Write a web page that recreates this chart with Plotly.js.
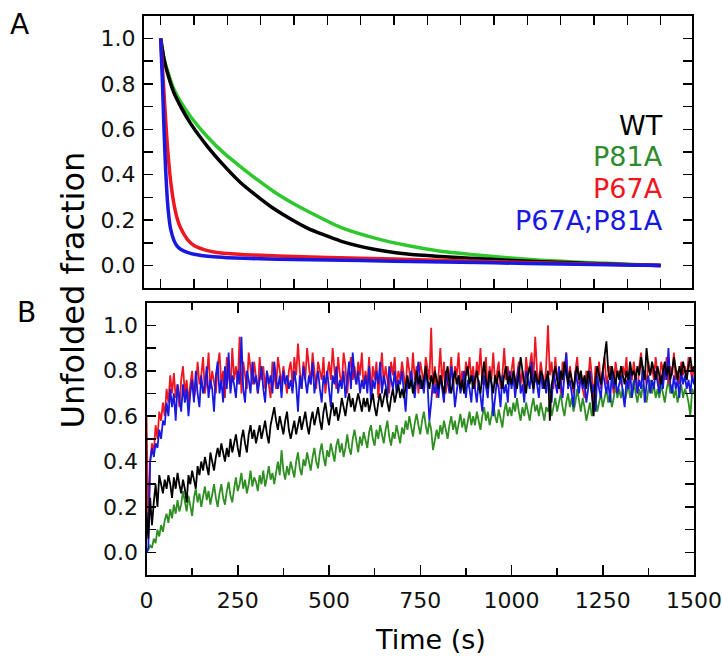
<!DOCTYPE html>
<html>
<head>
<meta charset="utf-8">
<script src="https://cdn.plot.ly/plotly-3.0.1.min.js"></script>
<style>html,body{margin:0;padding:0;background:#fff;}#chart{width:722px;height:656px;}</style>
</head>
<body>
<div id="chart"></div>
<script>
// ---------- Panel A (smooth decays) ----------
const timeA_slow = [0, 10, 20, 40, 60, 90, 140, 190, 240, 290, 340, 390, 440, 540, 640, 740, 840, 940, 1040, 1140, 1240, 1340, 1440, 1500];
const wtA   = [1.0, 0.91, 0.85, 0.76, 0.70, 0.625, 0.525, 0.44, 0.365, 0.305, 0.25, 0.205, 0.165, 0.108, 0.072, 0.051, 0.04, 0.031, 0.024, 0.017, 0.012, 0.007, 0.003, 0.0];
const p81aA = [1.0, 0.91, 0.86, 0.775, 0.72, 0.655, 0.567, 0.495, 0.435, 0.378, 0.325, 0.28, 0.24, 0.168, 0.122, 0.088, 0.063, 0.048, 0.035, 0.024, 0.016, 0.01, 0.004, 0.0];
const timeA_p67a = [0, 5, 10, 15, 20, 30, 40, 50, 60, 80, 100, 130, 160, 200, 250, 300, 400, 600, 800, 1000, 1200, 1400, 1500];
const p67aA = [1.0, 0.88, 0.76, 0.64, 0.53, 0.37, 0.27, 0.205, 0.165, 0.115, 0.088, 0.07, 0.06, 0.053, 0.048, 0.045, 0.04, 0.032, 0.025, 0.017, 0.01, 0.004, 0.0];
const timeA_dbl = [0, 5, 10, 15, 20, 25, 30, 40, 50, 60, 80, 100, 150, 200, 300, 400, 600, 800, 1000, 1200, 1400, 1500];
const dblA  = [1.0, 0.82, 0.60, 0.42, 0.29, 0.21, 0.16, 0.11, 0.085, 0.072, 0.058, 0.05, 0.04, 0.035, 0.03, 0.027, 0.022, 0.017, 0.012, 0.007, 0.003, 0.0];

// ---------- Panel B (noisy rises), one value every 5 s ----------
const timeB = [
  0,5,10,15,20,25,30,35,40,45,50,55,60,65,70,75,80,85,90,95,
  100,105,110,115,120,125,130,135,140,145,150,155,160,165,170,175,180,185,190,195,
  200,205,210,215,220,225,230,235,240,245,250,255,260,265,270,275,280,285,290,295,
  300,305,310,315,320,325,330,335,340,345,350,355,360,365,370,375,380,385,390,395,
  400,405,410,415,420,425,430,435,440,445,450,455,460,465,470,475,480,485,490,495,
  500,505,510,515,520,525,530,535,540,545,550,555,560,565,570,575,580,585,590,595,
  600,605,610,615,620,625,630,635,640,645,650,655,660,665,670,675,680,685,690,695,
  700,705,710,715,720,725,730,735,740,745,750,755,760,765,770,775,780,785,790,795,
  800,805,810,815,820,825,830,835,840,845,850,855,860,865,870,875,880,885,890,895,
  900,905,910,915,920,925,930,935,940,945,950,955,960,965,970,975,980,985,990,995,
  1000,1005,1010,1015,1020,1025,1030,1035,1040,1045,1050,1055,1060,1065,1070,1075,1080,1085,1090,1095,
  1100,1105,1110,1115,1120,1125,1130,1135,1140,1145,1150,1155,1160,1165,1170,1175,1180,1185,1190,1195,
  1200,1205,1210,1215,1220,1225,1230,1235,1240,1245,1250,1255,1260,1265,1270,1275,1280,1285,1290,1295,
  1300,1305,1310,1315,1320,1325,1330,1335,1340,1345,1350,1355,1360,1365,1370,1375,1380,1385,1390,1395,
  1400,1405,1410,1415,1420,1425,1430,1435,1440,1445,1450,1455,1460,1465,1470,1475,1480,1485,1490,1495,
  1500];
const p67aB = [
  0.60,0.12,0.40,0.48,0.44,0.56,0.50,0.62,0.58,0.66,0.60,0.72,0.66,0.78,0.70,0.79,0.68,0.74,0.64,0.76,
  0.82,0.70,0.76,0.66,0.74,0.80,0.68,0.72,0.84,0.74,0.78,0.86,0.70,0.76,0.88,0.72,0.80,0.74,0.70,0.82,
  0.88,0.74,0.80,0.68,0.86,0.78,0.72,0.90,0.76,0.82,0.74,0.95,0.70,0.84,0.78,0.72,0.88,0.80,0.74,0.84,
  0.78,0.70,0.86,0.76,0.82,0.72,0.80,0.74,0.68,0.84,0.78,0.72,0.86,0.80,0.74,0.82,0.76,0.70,0.80,0.84,
  0.74,0.86,0.78,0.92,0.80,0.72,0.84,0.76,0.90,0.82,0.74,0.88,0.78,0.72,0.84,0.80,0.76,0.86,0.70,0.78,
  0.84,0.76,0.90,0.80,0.72,0.86,0.78,0.74,0.88,0.82,0.70,0.80,0.86,0.76,0.82,0.74,0.84,0.78,0.88,0.72,
  0.80,0.74,0.86,0.70,0.82,0.76,0.84,0.68,0.80,0.88,0.74,0.82,0.76,0.70,0.84,0.78,0.86,0.72,0.80,0.76,
  0.84,0.78,0.72,0.86,0.80,0.74,0.88,0.76,0.82,0.70,0.84,0.78,0.74,0.86,0.80,0.76,0.99,0.70,0.82,0.68,
  0.78,0.90,0.74,0.84,0.70,0.80,0.76,0.86,0.72,0.82,0.78,0.88,0.74,0.80,0.70,0.84,0.78,0.86,0.76,0.82,
  0.72,0.84,0.78,0.90,0.74,0.80,0.86,0.70,0.82,0.76,0.88,0.74,0.80,0.84,0.72,0.78,0.90,0.76,0.82,0.74,
  0.80,0.86,0.72,0.78,0.84,0.74,0.80,0.70,0.86,0.78,0.82,0.88,0.76,0.95,0.80,0.74,0.84,0.78,0.72,0.82,
  1.00,0.78,0.84,0.72,0.86,0.76,0.80,0.70,0.84,0.78,0.88,0.74,0.82,0.76,0.70,0.80,0.86,0.74,0.80,0.72,
  0.68,0.80,0.74,0.86,0.78,0.66,0.82,0.76,0.84,0.72,0.80,0.86,0.74,0.78,0.82,0.76,0.70,0.84,0.78,0.80,
  0.74,0.82,0.78,0.86,0.72,0.80,0.76,0.84,0.78,0.70,0.82,0.88,0.76,0.80,0.74,0.84,0.78,0.82,0.76,0.86,
  0.78,0.72,0.84,0.80,0.76,0.86,0.74,0.82,0.78,0.88,0.76,0.80,0.74,0.84,0.78,0.82,0.76,0.86,0.80,0.76,
  0.82];
const dblB = [
  0.00,0.02,0.40,0.46,0.42,0.48,0.46,0.54,0.50,0.58,0.56,0.66,0.60,0.72,0.64,0.70,0.58,0.74,0.68,0.62,
  0.74,0.66,0.72,0.60,0.70,0.76,0.66,0.80,0.70,0.64,0.78,0.70,0.74,0.82,0.68,0.76,0.72,0.62,0.78,0.84,
  0.70,0.76,0.66,0.82,0.72,0.88,0.70,0.78,0.74,0.68,0.80,0.74,0.95,0.72,0.66,0.80,0.76,0.70,0.84,0.74,
  0.78,0.70,0.76,0.82,0.72,0.66,0.80,0.74,0.78,0.70,0.84,0.76,0.72,0.78,0.68,0.80,0.74,0.78,0.72,0.76,
  0.70,0.80,0.74,0.62,0.78,0.72,0.82,0.76,0.70,0.78,0.74,0.84,0.70,0.76,0.80,0.72,0.66,0.78,0.74,0.80,
  0.72,0.64,0.78,0.74,0.82,0.70,0.76,0.72,0.80,0.68,0.76,0.84,0.72,0.88,0.78,0.74,0.80,0.70,0.76,0.72,
  0.78,0.70,0.82,0.66,0.76,0.72,0.80,0.74,0.84,0.70,0.78,0.74,0.68,0.82,0.76,0.72,0.80,0.70,0.76,0.74,
  0.80,0.70,0.62,0.76,0.72,0.80,0.74,0.68,0.78,0.84,0.72,0.76,0.70,0.80,0.74,0.58,0.66,0.76,0.70,0.74,
  0.68,0.78,0.72,0.66,0.80,0.74,0.70,0.82,0.76,0.64,0.72,0.78,0.70,0.74,0.80,0.68,0.76,0.72,0.66,0.78,
  0.72,0.66,0.76,0.70,0.62,0.78,0.72,0.68,0.80,0.74,0.60,0.70,0.76,0.72,0.64,0.78,0.70,0.74,0.66,0.80,
  0.72,0.78,0.68,0.76,0.82,0.70,0.74,0.66,0.80,0.76,0.72,0.84,0.70,0.78,0.74,0.68,0.80,0.72,0.76,0.70,
  0.78,0.72,0.66,0.80,0.74,0.70,0.82,0.76,0.68,0.78,0.88,0.72,0.76,0.70,0.64,0.80,0.74,0.70,0.78,0.72,
  0.76,0.66,0.72,0.80,0.70,0.74,0.62,0.78,0.72,0.68,0.80,0.74,0.70,0.76,0.66,0.80,0.72,0.76,0.70,0.74,
  0.78,0.70,0.64,0.76,0.72,0.80,0.68,0.74,0.78,0.70,0.76,0.72,0.82,0.66,0.74,0.78,0.70,0.76,0.72,0.80,
  0.74,0.70,0.78,0.72,0.82,0.76,0.90,0.74,0.70,0.78,0.72,0.76,0.68,0.80,0.74,0.78,0.72,0.76,0.70,0.78,
  0.74];
const wtB = [
  0.18,0.06,0.24,0.12,0.22,0.30,0.20,0.34,0.30,0.26,0.32,0.28,0.34,0.30,0.24,0.33,0.28,0.35,0.30,0.26,
  0.32,0.28,0.22,0.34,0.30,0.36,0.32,0.28,0.38,0.34,0.40,0.36,0.42,0.38,0.34,0.44,0.40,0.36,0.42,0.46,
  0.42,0.48,0.44,0.40,0.46,0.42,0.50,0.44,0.48,0.52,0.46,0.42,0.50,0.54,0.48,0.44,0.52,0.56,0.50,0.54,
  0.48,0.52,0.56,0.50,0.54,0.58,0.52,0.48,0.56,0.60,0.64,0.58,0.54,0.60,0.56,0.52,0.58,0.62,0.54,0.50,
  0.54,0.58,0.52,0.56,0.60,0.54,0.58,0.62,0.56,0.52,0.58,0.62,0.56,0.60,0.64,0.58,0.54,0.62,0.66,0.60,
  0.56,0.62,0.66,0.60,0.64,0.58,0.62,0.68,0.64,0.60,0.66,0.70,0.64,0.68,0.62,0.66,0.70,0.66,0.62,0.68,
  0.64,0.68,0.62,0.66,0.70,0.64,0.60,0.66,0.70,0.64,0.68,0.72,0.66,0.62,0.68,0.72,0.66,0.70,0.74,0.68,
  0.72,0.68,0.74,0.78,0.72,0.76,0.70,0.74,0.80,0.74,0.78,0.72,0.76,0.82,0.76,0.72,0.78,0.74,0.80,0.76,
  0.72,0.78,0.74,0.70,0.78,0.82,0.74,0.70,0.76,0.80,0.74,0.78,0.72,0.76,0.70,0.78,0.82,0.74,0.78,0.72,
  0.76,0.80,0.74,0.70,0.78,0.84,0.76,0.72,0.80,0.74,0.70,0.78,0.74,0.80,0.76,0.72,0.78,0.82,0.74,0.78,
  0.74,0.80,0.76,0.72,0.78,0.86,0.80,0.74,0.70,0.78,0.82,0.76,0.72,0.80,0.76,0.74,0.80,0.78,0.72,0.76,
  0.80,0.58,0.74,0.78,0.82,0.76,0.72,0.80,0.76,0.84,0.78,0.74,0.80,0.76,0.72,0.78,0.82,0.76,0.80,0.74,
  0.78,0.72,0.80,0.76,0.70,0.60,0.76,0.82,0.78,0.74,0.80,0.86,0.93,0.80,0.76,0.82,0.78,0.74,0.80,0.76,
  0.82,0.78,0.74,0.80,0.76,0.84,0.78,0.80,0.76,0.82,0.78,0.86,0.80,0.76,0.90,0.82,0.78,0.84,0.80,0.76,
  0.82,0.78,0.74,0.80,0.84,0.78,0.82,0.76,0.80,0.86,0.80,0.76,0.82,0.78,0.84,0.80,0.76,0.82,0.86,0.80,
  0.82];
const p81aB = [
  0.00,0.01,0.03,0.02,0.06,0.04,0.10,0.07,0.12,0.09,0.14,0.17,0.13,0.19,0.15,0.21,0.17,0.23,0.18,0.21,
  0.27,0.22,0.18,0.25,0.21,0.16,0.24,0.28,0.22,0.26,0.20,0.24,0.29,0.23,0.27,0.21,0.26,0.30,0.24,0.20,
  0.26,0.30,0.24,0.21,0.27,0.31,0.25,0.22,0.28,0.33,0.27,0.30,0.35,0.28,0.32,0.26,0.30,0.36,0.29,0.33,
  0.31,0.27,0.34,0.30,0.36,0.29,0.33,0.38,0.32,0.35,0.30,0.36,0.40,0.34,0.45,0.36,0.32,0.38,0.34,0.40,
  0.36,0.33,0.40,0.44,0.37,0.34,0.41,0.38,0.44,0.40,0.36,0.42,0.46,0.40,0.37,0.44,0.48,0.42,0.38,0.45,
  0.42,0.48,0.44,0.40,0.47,0.50,0.44,0.48,0.42,0.46,0.52,0.46,0.43,0.50,0.54,0.48,0.44,0.51,0.47,0.53,
  0.50,0.46,0.53,0.56,0.50,0.47,0.54,0.50,0.56,0.52,0.48,0.54,0.58,0.51,0.47,0.53,0.50,0.56,0.52,0.48,
  0.55,0.52,0.58,0.54,0.60,0.55,0.51,0.57,0.61,0.56,0.52,0.58,0.62,0.56,0.52,0.58,0.54,0.45,0.50,0.54,
  0.50,0.56,0.52,0.58,0.54,0.50,0.56,0.60,0.54,0.58,0.52,0.57,0.61,0.55,0.59,0.53,0.58,0.62,0.56,0.60,
  0.56,0.62,0.58,0.54,0.60,0.64,0.58,0.62,0.56,0.60,0.66,0.60,0.57,0.63,0.59,0.55,0.62,0.66,0.60,0.64,
  0.60,0.66,0.62,0.68,0.62,0.58,0.64,0.60,0.66,0.62,0.58,0.64,0.68,0.62,0.65,0.60,0.66,0.62,0.58,0.64,
  0.62,0.66,0.60,0.64,0.68,0.62,0.66,0.70,0.64,0.60,0.66,0.70,0.64,0.68,0.62,0.66,0.72,0.66,0.62,0.68,
  0.64,0.58,0.62,0.66,0.60,0.64,0.68,0.62,0.66,0.70,0.64,0.68,0.72,0.66,0.70,0.64,0.68,0.74,0.68,0.72,
  0.68,0.72,0.66,0.70,0.74,0.68,0.72,0.76,0.70,0.66,0.72,0.68,0.74,0.70,0.66,0.72,0.76,0.70,0.74,0.68,
  0.72,0.68,0.74,0.70,0.66,0.72,0.76,0.70,0.74,0.68,0.72,0.66,0.70,0.74,0.68,0.72,0.70,0.66,0.60,0.72,
  0.70];

// ---------- Labels ----------
const seriesNames = ['WT', 'P81A', 'P67A', 'P67A;P81A'];
const yTickVals = [0, 0.2, 0.4, 0.6, 0.8, 1.0];
const yTickText = ['0.0', '0.2', '0.4', '0.6', '0.8', '1.0'];
const xTickVals = [0, 250, 500, 750, 1000, 1250, 1500];
const xTickText = ['0', '250', '500', '750', '1000', '1250', '1500'];
const xTitle = 'Time (s)';
const yTitle = 'Unfolded fraction';

// ---------- Styling ----------
const W = 722, H = 656;
const FONT = 'DejaVu Sans, Liberation Sans, Arial, sans-serif';
const C_BLACK = '#000000', C_RED = '#ee1620', C_BLUE = '#1818e0';
const C_GREEN_A = '#2ec82e', C_GREEN_B = '#2f8f22', C_GREEN_TXT = '#2e8b2e';
const px = v => v / W, py = v => 1 - v / H;

const traces = [
  {x: timeA_slow, y: p81aA, xaxis: 'x2', yaxis: 'y2', mode: 'lines', name: seriesNames[1], line: {color: C_GREEN_A, width: 3.5, shape: 'spline', smoothing: 0.6}},
  {x: timeA_slow, y: wtA, xaxis: 'x2', yaxis: 'y2', mode: 'lines', name: seriesNames[0], line: {color: C_BLACK, width: 3.5, shape: 'spline', smoothing: 0.6}},
  {x: timeA_p67a, y: p67aA, xaxis: 'x2', yaxis: 'y2', mode: 'lines', name: seriesNames[2], line: {color: C_RED, width: 3.5, shape: 'spline', smoothing: 0.6}},
  {x: timeA_dbl, y: dblA, xaxis: 'x2', yaxis: 'y2', mode: 'lines', name: seriesNames[3], line: {color: C_BLUE, width: 3.5, shape: 'spline', smoothing: 0.6}},
  {x: timeB, y: p81aB, xaxis: 'x', yaxis: 'y', mode: 'lines', name: seriesNames[1], line: {color: C_GREEN_B, width: 1.8}},
  {x: timeB, y: p67aB, xaxis: 'x', yaxis: 'y', mode: 'lines', name: seriesNames[2], line: {color: C_RED, width: 1.8}},
  {x: timeB, y: dblB, xaxis: 'x', yaxis: 'y', mode: 'lines', name: seriesNames[3], line: {color: C_BLUE, width: 1.8}},
  {x: timeB, y: wtB, xaxis: 'x', yaxis: 'y', mode: 'lines', name: seriesNames[0], line: {color: C_BLACK, width: 1.8}}
];

const axCommon = {
  showline: true, linecolor: '#000', linewidth: 2, mirror: 'ticks',
  ticks: 'inside', tickcolor: '#000', tickwidth: 1.5,
  showgrid: false, zeroline: false, fixedrange: true,
  tickfont: {family: FONT, size: 22, color: '#111'}
};

const layout = {
  width: W, height: H, autosize: false,
  margin: {l: 0, r: 0, t: 0, b: 0, pad: 0},
  paper_bgcolor: '#fff', plot_bgcolor: '#fff',
  showlegend: false,
  font: {family: FONT, color: '#111'},
  xaxis: Object.assign({}, axCommon, {
    domain: [px(146.5), px(694)], anchor: 'y', range: [0, 1500],
    tickmode: 'array', tickvals: xTickVals, ticktext: xTickText, ticklen: 10,
    ticklabelstandoff: 5,
    minor: {dtick: 125, tick0: 0, ticks: 'inside', ticklen: 7, tickwidth: 1.5, tickcolor: '#000', showgrid: false}
  }),
  yaxis: Object.assign({}, axCommon, {
    domain: [py(575), py(302.7)], anchor: 'x', range: [-0.1, 1.1],
    tickmode: 'array', tickvals: yTickVals, ticktext: yTickText, ticklen: 9,
    ticklabelstandoff: 2,
    minor: {dtick: 0.1, tick0: 0, ticks: 'inside', ticklen: 9, tickwidth: 1.5, tickcolor: '#000', showgrid: false}
  }),
  xaxis2: Object.assign({}, axCommon, {
    domain: [px(144), px(692)], anchor: 'y2', range: [-50, 1594],
    tick0: 0, dtick: 100, ticklen: 9, showticklabels: false
  }),
  yaxis2: Object.assign({}, axCommon, {
    domain: [py(288.3), py(15.7)], anchor: 'x2', range: [-0.1, 1.1],
    tickmode: 'array', tickvals: yTickVals, ticktext: yTickText, ticklen: 9,
    ticklabelstandoff: 2,
    minor: {dtick: 0.1, tick0: 0, ticks: 'inside', ticklen: 9, tickwidth: 1.5, tickcolor: '#000', showgrid: false}
  }),
  annotations: [
    {text: 'A', xref: 'paper', yref: 'paper', x: px(19.5), y: py(25), xanchor: 'center', yanchor: 'middle', showarrow: false, font: {family: FONT, size: 28, color: '#000'}},
    {text: 'B', xref: 'paper', yref: 'paper', x: px(26), y: py(313), xanchor: 'center', yanchor: 'middle', showarrow: false, font: {family: FONT, size: 28, color: '#000'}},
    {text: yTitle, xref: 'paper', yref: 'paper', x: px(72), y: py(290.5), xanchor: 'center', yanchor: 'middle', textangle: -90, showarrow: false, font: {family: FONT, size: 32, color: '#000'}},
    {text: xTitle, xref: 'paper', yref: 'paper', x: px(430), y: py(639), xanchor: 'center', yanchor: 'middle', showarrow: false, font: {family: FONT, size: 27, color: '#000'}},
    {text: seriesNames[0], xref: 'paper', yref: 'paper', x: px(665), y: py(125), xanchor: 'right', yanchor: 'middle', showarrow: false, font: {family: FONT, size: 27, color: C_BLACK}},
    {text: seriesNames[1], xref: 'paper', yref: 'paper', x: px(665), y: py(156.5), xanchor: 'right', yanchor: 'middle', showarrow: false, font: {family: FONT, size: 27, color: C_GREEN_TXT}},
    {text: seriesNames[2], xref: 'paper', yref: 'paper', x: px(665), y: py(188.5), xanchor: 'right', yanchor: 'middle', showarrow: false, font: {family: FONT, size: 27, color: C_RED}},
    {text: seriesNames[3], xref: 'paper', yref: 'paper', x: px(665), y: py(220), xanchor: 'right', yanchor: 'middle', showarrow: false, font: {family: FONT, size: 27, color: C_BLUE}}
  ]
};

Plotly.newPlot('chart', traces, layout, {staticPlot: true, displayModeBar: false});
</script>
</body>
</html>
